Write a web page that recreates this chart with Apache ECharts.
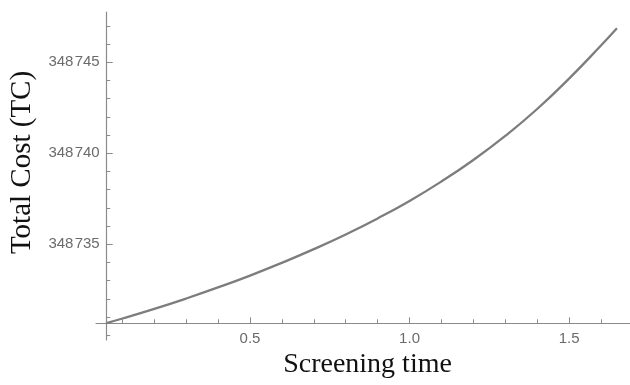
<!DOCTYPE html>
<html>
<head>
<meta charset="utf-8">
<script src="https://cdn.jsdelivr.net/npm/echarts@6/dist/echarts.min.js"></script>
<style>
  html, body { margin: 0; padding: 0; background: #fff; }
  #chart { width: 630px; height: 385px; }
</style>
</head>
<body>
<div id="chart"></div>
<script>
// screening time vs total cost
const screeningTime = [0.05, 0.1, 0.2, 0.3, 0.4, 0.5, 0.6, 0.7, 0.8, 0.9, 1.0, 1.1, 1.2, 1.3, 1.4, 1.5, 1.6, 1.65]
const totalCost = [
  348730.67, 348730.92, 348731.45, 348732.02, 348732.63, 348733.28, 348733.98, 348734.73,
  348735.54, 348736.42, 348737.38, 348738.45, 348739.63, 348740.95, 348742.43, 348744.1,
  348745.92, 348746.87
]
const xMajorTicks = [0.5, 1.0, 1.5]
const xMinorTicks = [0.1, 0.2, 0.3, 0.4, 0.6, 0.7, 0.8, 0.9, 1.1, 1.2, 1.3, 1.4, 1.6]
const yMajorTicks = [348735, 348740, 348745]
const yMinorTicks = [
  348730, 348731, 348732, 348733, 348734, 348736, 348737, 348738, 348739,
  348741, 348742, 348743, 348744, 348746, 348747
]

const axisGray = '#8a8a8a'
const labelGray = '#6b6b6b'
const X_RANGE = [0.0172, 1.691]
const Y_RANGE = [348729.74, 348747.76]

const chart = echarts.init(document.getElementById('chart'))

function xAxisBase() {
  return {
    type: 'value',
    position: 'bottom',
    offset: -16.7,
    min: X_RANGE[0],
    max: X_RANGE[1],
    splitLine: { show: false }
  }
}

function yAxisBase() {
  return {
    type: 'value',
    position: 'left',
    offset: -10.7,
    min: Y_RANGE[0],
    max: Y_RANGE[1],
    splitLine: { show: false }
  }
}

chart.setOption({
  animation: false,
  grid: {
    left: 96,
    right: 0,
    top: 12,
    bottom: 45
  },
  xAxis: [
    Object.assign(xAxisBase(), {
      axisLine: { lineStyle: { color: axisGray, width: 1.2 } },
      axisTick: {
        inside: true,
        length: 6,
        customValues: xMajorTicks,
        lineStyle: { color: axisGray }
      },
      axisLabel: {
        customValues: xMajorTicks,
        margin: 8,
        color: labelGray,
        fontSize: 15,
        fontFamily: 'Liberation Sans',
        formatter: (v) => v.toFixed(1)
      }
    }),
    Object.assign(xAxisBase(), {
      axisLine: { show: false },
      axisTick: {
        inside: true,
        length: 4,
        customValues: xMinorTicks,
        lineStyle: { color: axisGray }
      },
      axisLabel: { show: false }
    })
  ],
  yAxis: [
    Object.assign(yAxisBase(), {
      axisLine: { lineStyle: { color: axisGray, width: 1.2 } },
      axisTick: {
        inside: true,
        length: 6,
        customValues: yMajorTicks,
        lineStyle: { color: axisGray }
      },
      axisLabel: {
        customValues: yMajorTicks,
        margin: 7,
        color: labelGray,
        fontSize: 15,
        fontFamily: 'Liberation Sans',
        formatter: (v) => {
          const s = String(Math.round(v))
          return s.slice(0, 3) + '\u200a' + s.slice(3)
        }
      }
    }),
    Object.assign(yAxisBase(), {
      axisLine: { show: false },
      axisTick: {
        inside: true,
        length: 3.5,
        customValues: yMinorTicks,
        lineStyle: { color: axisGray }
      },
      axisLabel: { show: false }
    })
  ],
  graphic: [
    {
      type: 'text',
      x: 22,
      y: 162.5,
      rotation: Math.PI / 2,
      style: {
        text: 'Total Cost (TC)',
        fill: '#111',
        font: '29px "Liberation Serif"',
        align: 'center',
        verticalAlign: 'middle'
      }
    },
    {
      type: 'text',
      x: 367.5,
      y: 365,
      style: {
        text: 'Screening time',
        fill: '#111',
        font: '28px "Liberation Serif"',
        align: 'center',
        verticalAlign: 'middle'
      }
    }
  ],
  series: [
    {
      type: 'line',
      xAxisIndex: 0,
      yAxisIndex: 0,
      data: screeningTime.map((t, i) => [t, totalCost[i]]),
      smooth: true,
      symbol: 'none',
      lineStyle: {
        color: '#7d7d7d',
        width: 2.3
      }
    }
  ]
})
</script>
</body>
</html>
